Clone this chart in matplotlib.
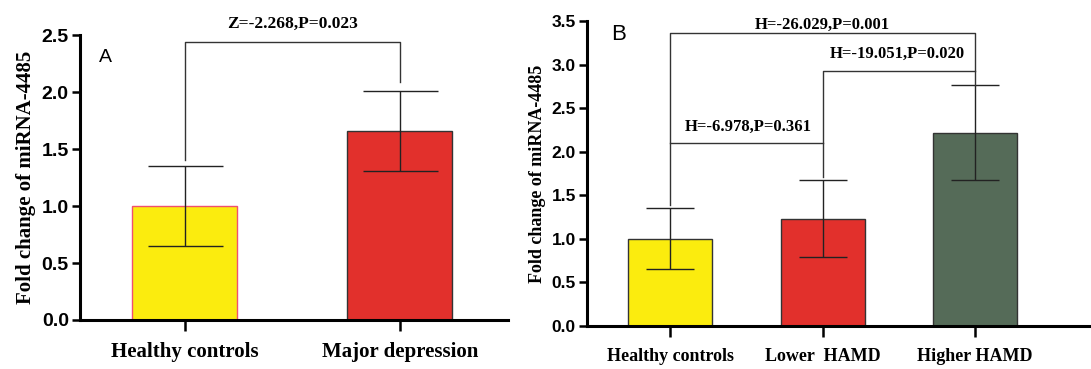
import matplotlib.pyplot as plt
import numpy as np

# panel A data
cats_a = ['Healthy controls', 'Major depression']
vals_a = [1.0, 1.66]
err_a = [0.35, 0.35]
cols_a = ['#fbec0e', '#e2302c']
edges_a = ['#f0506e', '#333333']

# panel B data
cats_b = ['Healthy controls', 'Lower  HAMD', 'Higher HAMD']
vals_b = [1.0, 1.23, 2.22]
err_b = [0.35, 0.44, 0.55]
cols_b = ['#fbec0e', '#e2302c', '#556b58']

serif = 'Liberation Serif'
sans = 'Liberation Sans'

fig = plt.figure(figsize=(10.91, 3.69), dpi=100)


def style(ax, ysize, xsize):
    for s in ['top', 'right']:
        ax.spines[s].set_visible(False)
    for s in ['left', 'bottom']:
        ax.spines[s].set_linewidth(2.2)
    ax.tick_params(axis='y', width=1.8, length=6, direction='out', pad=2)
    ax.tick_params(axis='x', width=1.8, length=8, direction='out', pad=8)
    for t in ax.get_yticklabels():
        t.set_fontfamily(sans)
        t.set_fontweight('bold')
        t.set_fontsize(ysize)
    for t in ax.get_xticklabels():
        t.set_fontfamily(serif)
        t.set_fontweight('bold')
        t.set_fontsize(xsize)


# ---- A ----
ax = fig.add_axes([0.0733, 0.1328, 0.392, 0.772])
x = np.arange(len(cats_a))
ax.bar(x, vals_a, width=0.49, color=cols_a, edgecolor=edges_a, linewidth=1.0)
ax.errorbar(x, vals_a, yerr=err_a, fmt='none', ecolor='#222222', elinewidth=1.0,
            capsize=27, capthick=1.0)
ax.set_xlim(-0.488, 1.502)
ax.set_ylim(0, 2.5)
ax.set_yticks(np.arange(0, 2.51, 0.5))
ax.set_yticklabels(['%.1f' % v for v in np.arange(0, 2.51, 0.5)])
ax.set_xticks(x)
ax.set_xticklabels(cats_a)
style(ax, 14, 15)
ax.set_ylabel('Fold change of miRNA-4485', fontfamily=serif, fontweight='bold',
              fontsize=15, labelpad=4)
ax.plot([0, 0, 1, 1], [1.40, 2.44, 2.44, 2.09], color='#333333', lw=1.0, clip_on=False)
ax.text(0.5, 2.60, 'Z=-2.268,P=0.023', ha='center', va='center', fontfamily=serif,
        fontweight='bold', fontsize=12.5, clip_on=False)
ax.text(-0.37, 2.3, 'A', ha='center', va='center', fontfamily=sans, fontsize=14)

# ---- B ----
ax = fig.add_axes([0.538, 0.1165, 0.462, 0.8266])
x = np.arange(len(cats_b))
ax.bar(x, vals_b, width=0.55, color=cols_b, edgecolor='#333333', linewidth=1.0)
ax.errorbar(x, vals_b, yerr=err_b, fmt='none', ecolor='#222222', elinewidth=1.0,
            capsize=17, capthick=1.0)
ax.set_xlim(-0.545, 2.76)
ax.set_ylim(0, 3.5)
ax.set_yticks(np.arange(0, 3.51, 0.5))
ax.set_yticklabels(['%.1f' % v for v in np.arange(0, 3.51, 0.5)])
ax.set_xticks(x)
ax.set_xticklabels(cats_b)
style(ax, 12.5, 13)
ax.set_ylabel('Fold change of miRNA-4485', fontfamily=serif, fontweight='bold',
              fontsize=13, labelpad=4)
ax.plot([0, 0, 2, 2], [1.39, 3.36, 3.36, 2.77], color='#333333', lw=1.0, clip_on=False)
ax.plot([1, 1, 2], [1.71, 2.93, 2.93], color='#333333', lw=1.0)
ax.plot([0, 1], [2.10, 2.10], color='#333333', lw=1.0)
ax.text(1.0, 3.45, 'H=-26.029,P=0.001', ha='center', va='center', fontfamily=serif,
        fontweight='bold', fontsize=12, clip_on=False)
ax.text(1.49, 3.12, 'H=-19.051,P=0.020', ha='center', va='center', fontfamily=serif,
        fontweight='bold', fontsize=12)
ax.text(0.51, 2.28, 'H=-6.978,P=0.361', ha='center', va='center', fontfamily=serif,
        fontweight='bold', fontsize=12)
ax.text(-0.34, 3.34, 'B', ha='center', va='center', fontfamily=sans, fontsize=16)

plt.savefig('out.png', dpi=100)
